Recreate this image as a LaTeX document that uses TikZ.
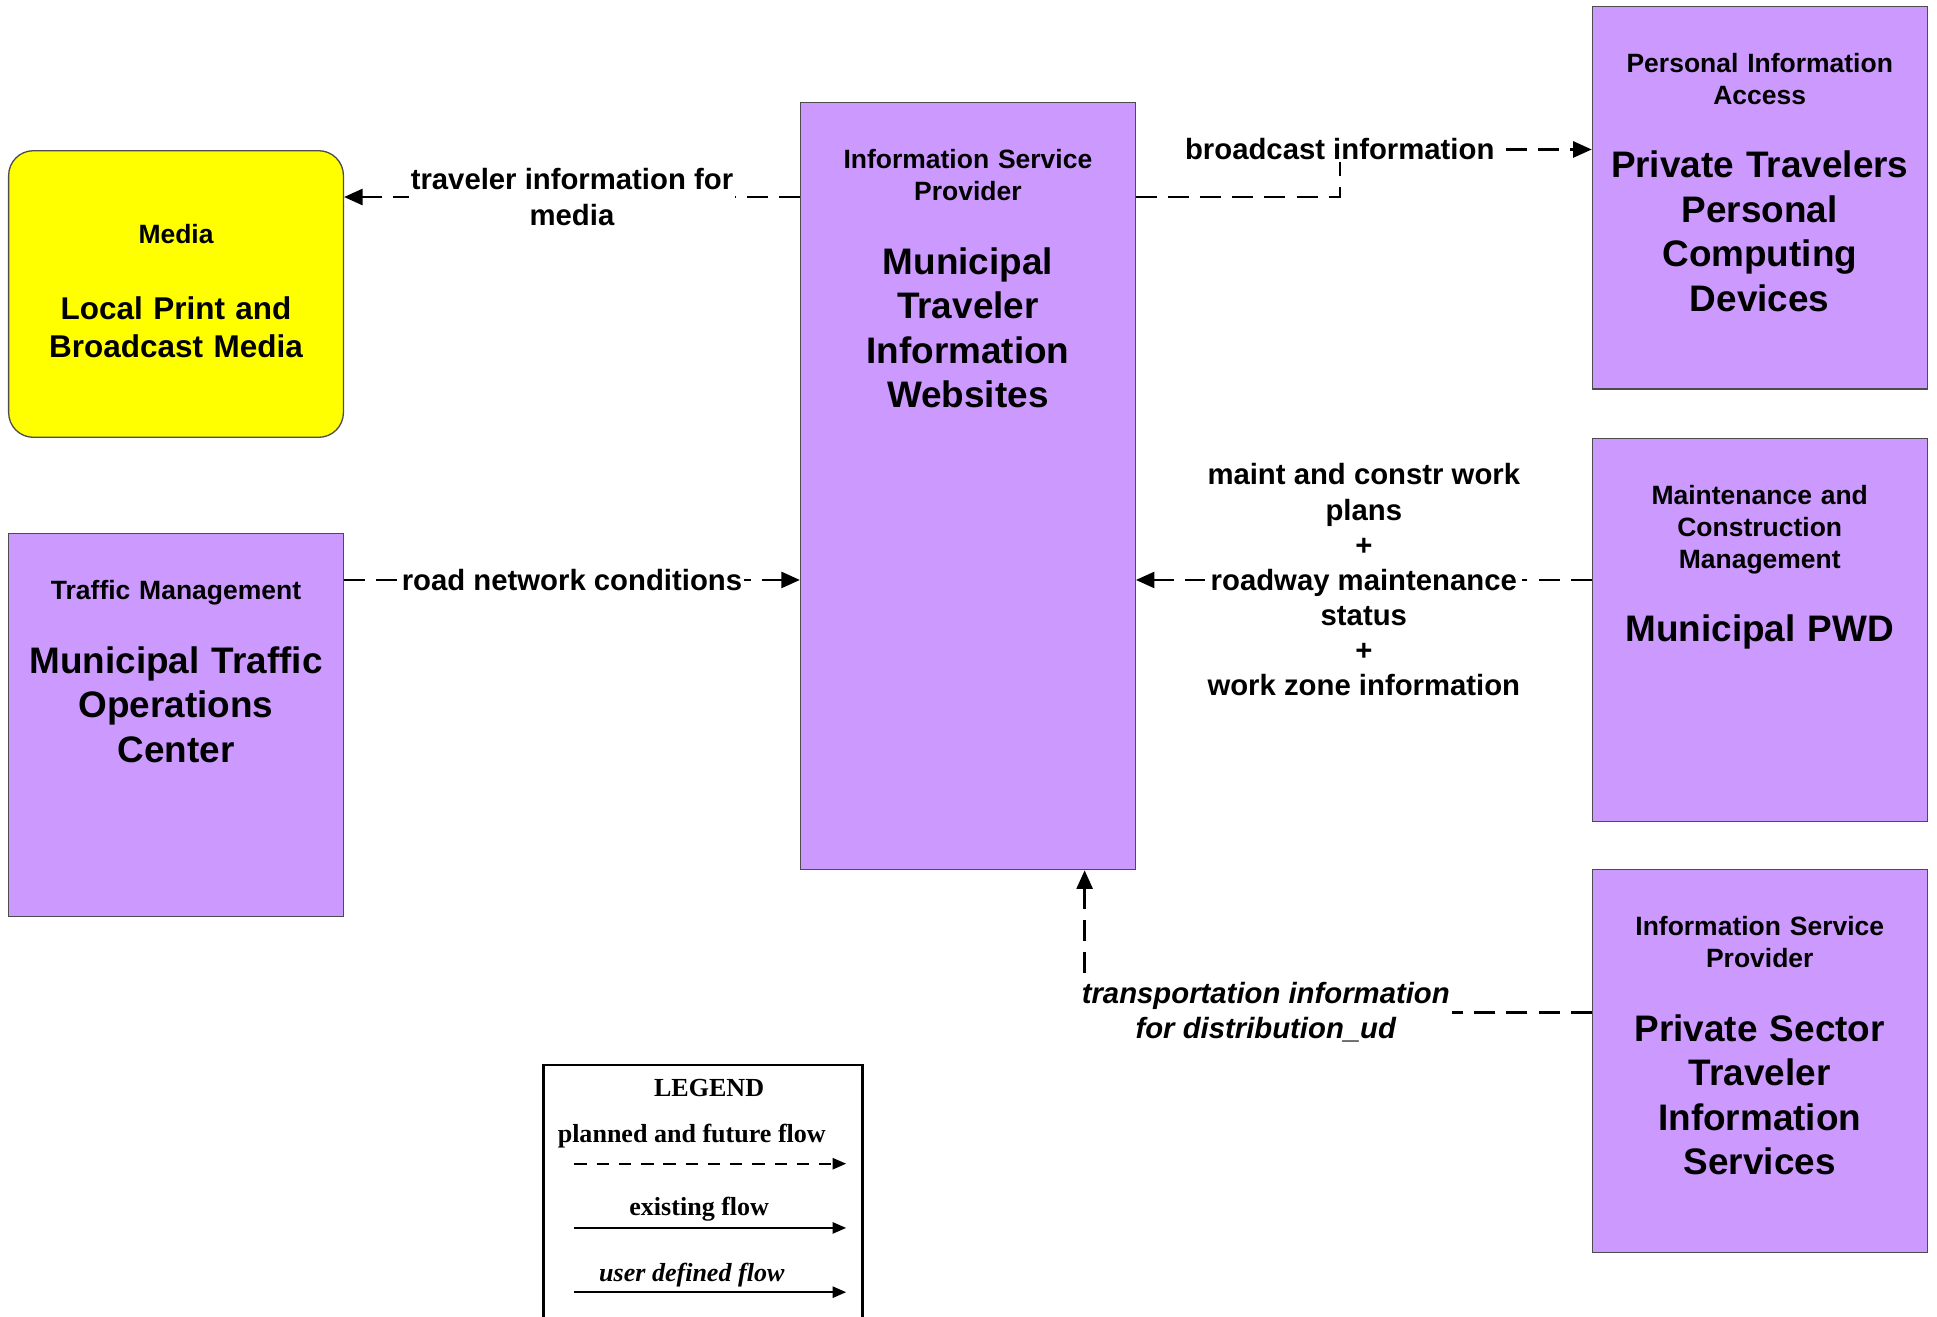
\documentclass[tikz,border=0pt]{standalone}
\usepackage{fontspec}
\setmainfont{Liberation Sans}
\newfontfamily\legendfont{Liberation Serif}
\usetikzlibrary{arrows.meta,positioning}
\definecolor{entpurple}{RGB}{204,153,255}
\definecolor{mediayellow}{RGB}{255,255,0}

\tikzset{
  box/.style={draw=black!70, line width=0.6pt, fill=entpurple, minimum width=5.42cm, minimum height=6.2cm, inner sep=0pt},
  hdr/.style={anchor=base, text width=5.3cm, align=center, font=\bfseries\fontsize{12.2}{14.8}\selectfont},
  ttl/.style={anchor=base, text width=5.4cm, align=center, font=\bfseries\fontsize{17}{20.5}\selectfont},
  flow/.style={line width=1.1pt, dash pattern=on 0.34cm off 0.18cm, -{Triangle[length=0.3cm,width=0.26cm]}},
  lbl/.style={fill=white, inner sep=1pt, align=center, font=\bfseries\fontsize{13.5}{16.2}\selectfont},
  leg/.style={font=\legendfont\bfseries\fontsize{12}{14}\selectfont},
  legflow/.style={line width=1pt, -{Triangle[length=0.22cm,width=0.18cm]}},
}

\begin{document}
\begin{tikzpicture}
\useasboundingbox (0,0) rectangle (31.36,-21.306);

\node[box, minimum height=12.42cm] (isp) at (15.67,-7.87) {};
\node[box, fill=mediayellow, rounded corners=0.4cm, minimum height=4.64cm] (media) at (2.85,-4.76) {};
\node[box] (tmc) at (2.85,-11.74) {};
\node[box] (pida) at (28.49,-3.2) {};
\node[box] (pwd) at (28.49,-10.2) {};
\node[box] (pstis) at (28.49,-17.18) {};

\node[hdr] (ispH) at ([yshift=-1.08cm]isp.north) {Information Service\\Provider};
\node[ttl] (ispT) at ([yshift=-2.79cm]isp.north) {Municipal\\Traveler\\Information\\Websites};
\node[hdr] (mediaH) at ([yshift=-1.51cm]media.north) {Media};
\node[ttl, font=\bfseries\fontsize{14.5}{17.6}\selectfont] (mediaT) at ([yshift=-2.74cm]media.north) {Local Print and\\Broadcast Media};
\node[hdr] (tmcH) at ([yshift=-1.08cm]tmc.north) {Traffic Management};
\node[ttl] (tmcT) at ([yshift=-2.27cm]tmc.north) {Municipal Traffic\\Operations\\Center};
\node[hdr] (pidaH) at ([yshift=-1.08cm]pida.north) {Personal Information\\Access};
\node[ttl] (pidaT) at ([yshift=-2.79cm]pida.north) {Private Travelers\\Personal\\Computing\\Devices};
\node[hdr] (pwdH) at ([yshift=-1.08cm]pwd.north) {Maintenance and\\Construction\\Management};
\node[ttl] (pwdT) at ([yshift=-3.29cm]pwd.north) {Municipal PWD};
\node[hdr] (pstisH) at ([yshift=-1.08cm]pstis.north) {Information Service\\Provider};
\node[ttl] (pstisT) at ([yshift=-2.79cm]pstis.north) {Private Sector\\Traveler\\Information\\Services};

\coordinate (tim) at ([yshift=-1.54cm]isp.north west);
\draw[flow] (tim) -- (tim -| media.east) node[midway, lbl] {traveler information for\\media};
\coordinate (bc) at (21.69,-2.42);
\draw[flow] ([yshift=-1.54cm]isp.north east) -| (bc) -- (bc -| pida.west);
\node[lbl] (bcast) at (bc) {broadcast information};
\coordinate (rnc) at ([yshift=-0.76cm]tmc.north east);
\draw[flow] (rnc) -- (rnc -| isp.west) node[midway, lbl] {road network conditions};
\coordinate (mcw) at ([yshift=-2.3cm]pwd.north west);
\draw[flow] (mcw) -- (mcw -| isp.east) node[midway, lbl] {maint and constr work\\plans\\+\\roadway maintenance\\status\\+\\work zone information};
\coordinate (tid) at ([yshift=-2.32cm]pstis.north west);
\coordinate (ispb) at ([xshift=1.89cm]isp.south);
\draw[flow] (tid) -| node[pos=0.5, lbl, anchor=west, xshift=-0.1cm, font=\bfseries\itshape\fontsize{13.5}{16.2}\selectfont] {transportation information\\for distribution\_ud} (ispb);

\node[draw, line width=1.2pt, minimum width=5.16cm, minimum height=5cm, anchor=north, inner sep=0pt] (legend) at (11.38,-17.22) {};
\node[leg] (legT) at (11.48,-17.62) {LEGEND};
\node[leg] (pff) at (11.2,-18.4) {planned and future flow};
\node[leg] (exf) at (11.32,-19.58) {existing flow};
\node[leg, font=\legendfont\bfseries\itshape\fontsize{12}{14}\selectfont] (udf) at (11.2,-20.64) {user defined flow};
\coordinate (pffa) at (9.3,-18.84);
\coordinate (pffb) at (13.7,-18.84);
\coordinate (exfa) at (9.3,-19.88);
\coordinate (exfb) at (13.7,-19.88);
\coordinate (udfa) at (9.3,-20.92);
\coordinate (udfb) at (13.7,-20.92);
\draw[legflow, dash pattern=on 0.2cm off 0.16cm] (pffa) -- (pffb);
\draw[legflow] (exfa) -- (exfb);
\draw[legflow] (udfa) -- (udfb);
\end{tikzpicture}
\end{document}
